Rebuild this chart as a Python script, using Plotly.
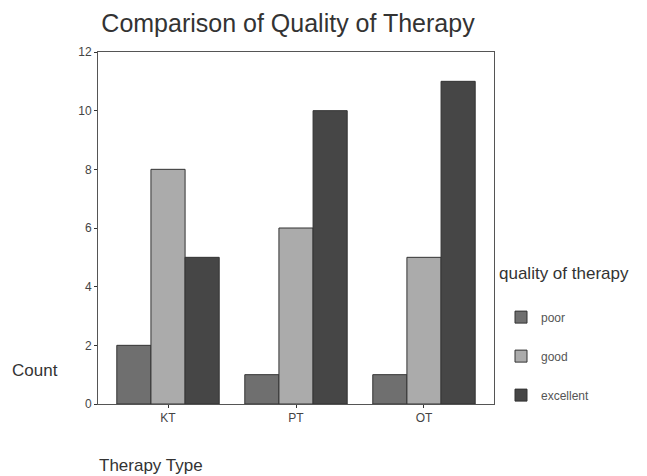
import plotly.graph_objects as go

categories = ["KT", "PT", "OT"]
poor = [2, 1, 1]
good = [8, 6, 5]
excellent = [5, 10, 11]
y_ticks = [0, 2, 4, 6, 8, 10, 12]

fig = go.Figure()
series = [("poor", poor, "#6f6f6f"), ("good", good, "#ababab"), ("excellent", excellent, "#464646")]
for name, vals, col in series:
    fig.add_trace(go.Bar(name=name, x=categories, y=vals,
                         marker=dict(color=col, line=dict(color="#333333", width=1)),
                         legendgroup=name))

W, H = 639, 468
L, T, PW, PH = 90, 44, 396, 352

fig.update_layout(
    width=W, height=H,
    margin=dict(l=L, r=W - L - PW, t=T, b=H - T - PH),
    paper_bgcolor="white", plot_bgcolor="white",
    barmode="group", bargap=0.2, bargroupgap=0,
    font=dict(family="Liberation Sans, Arial", color="#444444"),
    title=dict(text="Comparison of Quality of Therapy", x=280 / W, xanchor="center",
               y=1 - 15 / H, yanchor="middle", font=dict(size=25, color="#333333")),
    showlegend=True,
    legend=dict(x=(493 - L) / PW, xanchor="left", y=0.288, yanchor="top",
                font=dict(size=12, color="#555555"), tracegroupgap=20,
                bgcolor="rgba(0,0,0,0)"),
    xaxis=dict(range=[-0.547, 2.547], showline=True, linecolor="#555555", linewidth=1, mirror=True,
               ticks="outside", ticklen=3, tickcolor="#333333",
               tickfont=dict(size=12, color="#444444")),
    yaxis=dict(range=[0, 12], tickvals=y_ticks, showline=True, linecolor="#555555", linewidth=1,
               mirror=True, ticks="outside", ticklen=3, tickcolor="#333333", showgrid=False,
               zeroline=False, tickfont=dict(size=12, color="#444444")),
)
fig.add_annotation(text="quality of therapy", xref="paper", yref="paper", x=(489 - L) / PW,
                   y=(T + PH - 265) / PH, xanchor="left", yanchor="middle", showarrow=False,
                   font=dict(size=17, color="#333333"))
fig.add_annotation(text="Count", xref="paper", yref="paper", x=(2 - L) / PW, y=(T + PH - 362) / PH,
                   xanchor="left", yanchor="middle", showarrow=False,
                   font=dict(size=17, color="#333333"))
fig.add_annotation(text="Therapy Type", xref="paper", yref="paper", x=(89 - L) / PW,
                   y=-(457 - T - PH) / PH, xanchor="left", yanchor="middle", showarrow=False,
                   font=dict(size=17, color="#333333"))
fig.write_html("out.html")
